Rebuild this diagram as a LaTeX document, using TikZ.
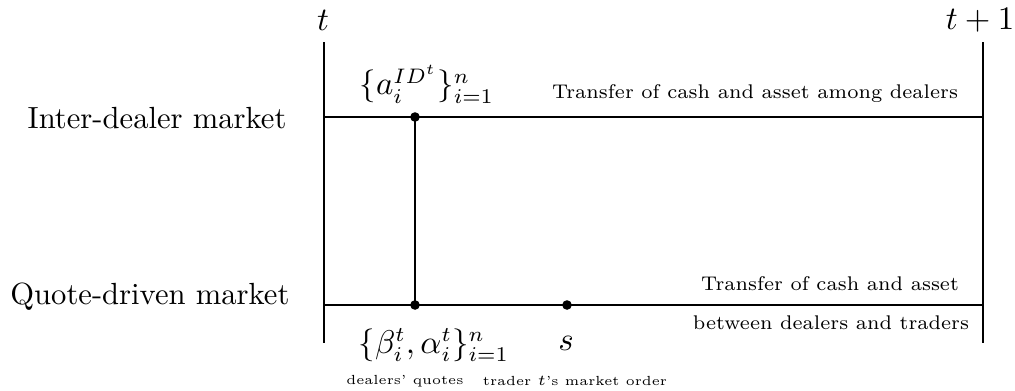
\documentclass[tikz,border=0pt]{standalone}
\usepackage{amsmath}
\begin{document}
\begin{tikzpicture}[x=0.3333pt,y=-0.3333pt,
  axis/.style={line width=0.8pt},
  dotpt/.style={circle,fill=black,inner sep=0pt,minimum size=3.2pt},
  big/.style={font=\fontsize{10.2}{12}\selectfont,inner sep=0pt},
  mathlbl/.style={font=\fontsize{10.6}{12}\selectfont,inner sep=0pt},
  mid/.style={font=\fontsize{6.6}{8}\selectfont,inner sep=0pt},
  small/.style={font=\fontsize{4.4}{5.5}\selectfont,inner sep=0pt}]
\useasboundingbox (0,0) rectangle (1015,390);
% vertical time lines
\coordinate (L1) at (324,42);
\coordinate (L2) at (324,343);
\coordinate (R1) at (983,42);
\coordinate (R2) at (983,343);
\draw[axis] (L1) -- (L2);
\draw[axis] (R1) -- (R2);
% market lines
\coordinate (TL) at (324,117);
\coordinate (TR) at (983,117);
\coordinate (BL) at (324,305);
\coordinate (BR) at (983,305);
\draw[axis] (TL) -- (TR);
\draw[axis] (BL) -- (BR);
% dots
\node[dotpt] (d1) at (415,117) {};
\node[dotpt] (d2) at (415,305) {};
\node[dotpt] (d3) at (567,305) {};
\draw[axis] (d1.center) -- (d2.center);
% labels
\node[mathlbl] (t0) at (323,20) {$t$};
\node[mathlbl] (t1) at (980,20) {$t+1$};
\node[big,anchor=east] (idm) at (287,118) {Inter-dealer market};
\node[big,anchor=east] (qdm) at (290,297) {Quote-driven market};
\node[mathlbl,anchor=west] (aid) at (359,84) {$\{a_i^{ID^t}\}_{i=1}^n$};
\node[mathlbl,anchor=west] (ba) at (358,345) {$\{\beta_i^t,\alpha_i^t\}_{i=1}^n$};
\node[mathlbl] (s) at (566,343) {$s$};
\node[mid] (tr1) at (755,94) {Transfer of cash and asset among dealers};
\node[mid] (tr2) at (830,284) {Transfer of cash and asset};
\node[mid] (tr3) at (831,323) {between dealers and traders};
\node[small] (dq) at (405,381) {dealers' quotes};
\node[small] (tmo) at (575,381) {trader $t$'s market order};
\end{tikzpicture}
\end{document}
